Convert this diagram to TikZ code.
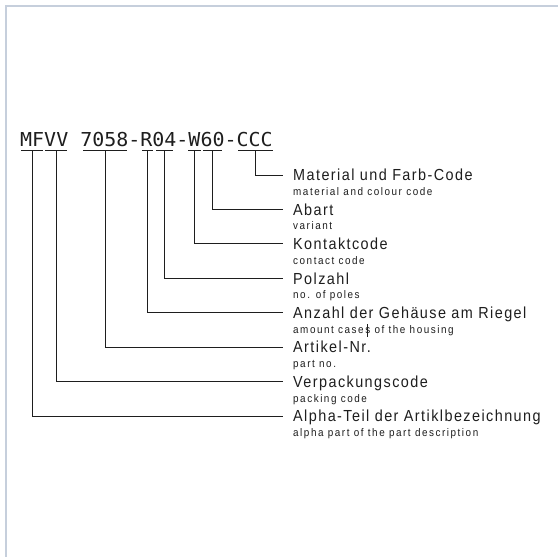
\documentclass[tikz,border=0pt]{standalone}
\usepackage{fontspec}
\setmainfont{Liberation Sans}
\newfontfamily\codefont[FakeStretch=1.04]{DejaVu Sans Mono}
\newfontfamily\labfont[FakeStretch=0.9,LetterSpace=9]{Liberation Sans}
\newfontfamily\subfont[FakeStretch=0.9,LetterSpace=14]{Liberation Sans}
\definecolor{bordercol}{HTML}{C6CFDC}
\definecolor{inkcol}{HTML}{1E1E1E}
\begin{document}
\begin{tikzpicture}[x=1pt,y=-1pt,
  conn/.style={draw=inkcol,line width=0.9pt},
  uline/.style={draw=inkcol,line width=0.9pt},
  lab/.style={anchor=west,inner xsep=10pt,inner ysep=0pt,text height=11.5pt,text depth=0pt,
    text=inkcol,font=\labfont\fontsize{16}{18}\selectfont},
  sub/.style={anchor=base west,inner sep=0pt,text=inkcol,font=\subfont\fontsize{11}{13}\selectfont},
  code/.style={anchor=base west,inner sep=0pt,text=inkcol,font=\codefont\fontsize{19.2}{21}\selectfont}]
\useasboundingbox[fill=white] (0,0) rectangle (558,557);
\draw[bordercol,line width=2pt] (5.5,557) -- (5.5,6) -- (558,6);
% part number
\node[code] (code) at (20,146) {MFVV 7058-R04-W60-CCC};
% underlines
\draw[uline] (21,150) -- (43,150);
\draw[uline] (45,150) -- (67,150);
\draw[uline] (83,150) -- (127,150);
\draw[uline] (142,150) -- (153,150);
\draw[uline] (156,150) -- (173,150);
\draw[uline] (188,150) -- (201,150);
\draw[uline] (203,150) -- (222,150);
\draw[uline] (238,150) -- (273,150);
% underline centres
\coordinate (u1) at (255,150);
\coordinate (u2) at (212.5,150);
\coordinate (u3) at (194.5,150);
\coordinate (u4) at (164.5,150);
\coordinate (u5) at (147.5,150);
\coordinate (u6) at (105,150);
\coordinate (u7) at (56,150);
\coordinate (u8) at (32,150);
% labels
\node[lab] (l1) at (283,175.0) {Material und Farb-Code};
\node[lab] (l2) at (283,209.4) {Abart};
\node[lab] (l3) at (283,243.9) {Kontaktcode};
\node[lab] (l4) at (283,278.3) {Polzahl};
\node[lab] (l5) at (283,312.7) {Anzahl der Gehäuse am Riegel};
\node[lab] (l6) at (283,347.2) {Artikel-Nr.};
\node[lab] (l7) at (283,381.6) {Verpackungscode};
\node[lab] (l8) at (283,416.0) {Alpha-Teil der Artiklbezeichnung};
\node[sub] (s1) at (293,195.5) {material and colour code};
\node[sub] (s2) at (293,229.9) {variant};
\node[sub] (s3) at (293,264.4) {contact code};
\node[sub] (s4) at (293,298.8) {no. of poles};
\node[sub] (s5) at (293,333.2) {amount cases of the housing};
\node[sub] (s6) at (293,367.7) {part no.};
\node[sub] (s7) at (293,402.1) {packing code};
\node[sub] (s8) at (293,436.5) {alpha part of the part description};
% connectors
\draw[conn] (u1) |- (l1.west);
\draw[conn] (u2) |- (l2.west);
\draw[conn] (u3) |- (l3.west);
\draw[conn] (u4) |- (l4.west);
\draw[conn] (u5) |- (l5.west);
\draw[conn] (u6) |- (l6.west);
\draw[conn] (u7) |- (l7.west);
\draw[conn] (u8) |- (l8.west);
% stray tick above the period of Artikel-Nr.
\draw[inkcol,line width=0.8pt] (l6.east) ++(-13.5,-23) -- ++(0,13);
\end{tikzpicture}
\end{document}
